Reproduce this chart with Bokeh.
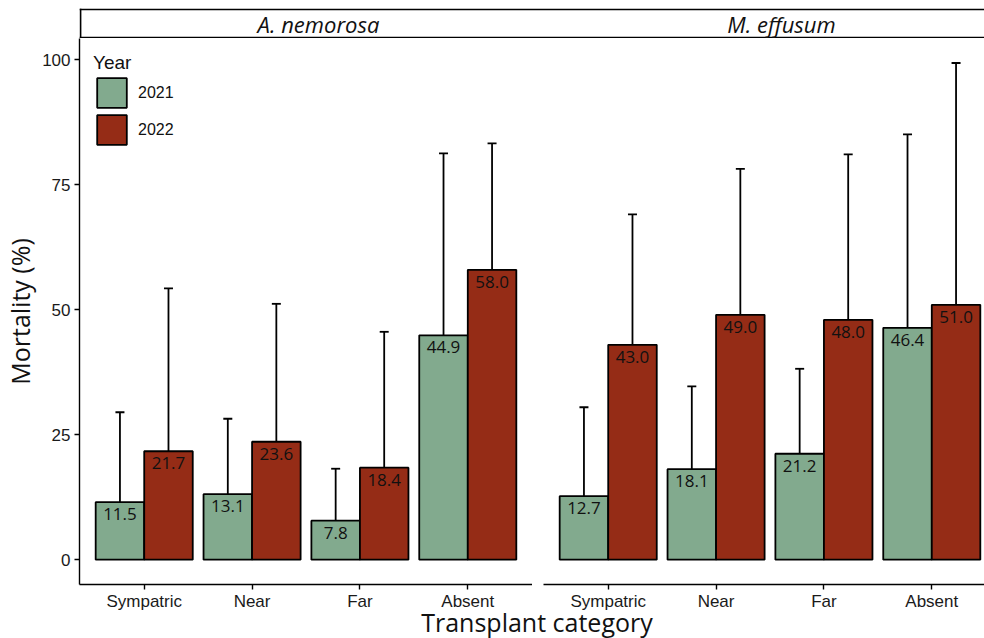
import numpy as np
from bokeh.plotting import figure
from bokeh.models import (ColumnDataSource, Range1d, FixedTicker, Whisker, TeeHead,
                          Legend, LegendItem, Span, Label, Div)
from bokeh.layouts import column, row
from bokeh.core.properties import value
from bokeh.embed import file_html
from bokeh.resources import INLINE

# ---------------- data ----------------
categories = ["Sympatric", "Near", "Far", "Absent"]
years = ["2021", "2022"]
species = ["A. nemorosa", "M. effusum"]

nem_2021_mean = [11.5, 13.1, 7.8, 44.9]
nem_2021_upper = [29.5, 28.2, 18.2, 81.3]
nem_2022_mean = [21.7, 23.6, 18.4, 58.0]
nem_2022_upper = [54.3, 51.2, 45.6, 83.3]

eff_2021_mean = [12.7, 18.1, 21.2, 46.4]
eff_2021_upper = [30.5, 34.7, 38.2, 85.1]
eff_2022_mean = [43.0, 49.0, 48.0, 51.0]
eff_2022_upper = [69.1, 78.2, 81.1, 99.4]

y_ticks = [0, 25, 50, 75, 100]

# ---------------- style ----------------
COL = {"2021": "#82AA8E", "2022": "#952C16"}
TICK_FONT = "Liberation Sans"
TEXT_FONT = "Open Sans"
BAR_W = 0.45
LW = 1.8

pos = np.arange(1, len(categories) + 1)
overrides = {int(p): c for p, c in zip(pos, categories)}
PX_PER_UNIT = 453 / 4.2


def make_panel(means, uppers, left_panel):
    if left_panel:
        xr = Range1d(0.4, 4.6)
        p = figure(width=532, height=576, x_range=xr, y_range=Range1d(-4.97, 104.3),
                   output_backend="svg", toolbar_location=None,
                   min_border_left=79, min_border_right=0, min_border_top=0,
                   min_border_bottom=30)
    else:
        xr = Range1d(0.4, 0.4 + 441 / PX_PER_UNIT)
        p = figure(width=452, height=576, x_range=xr, y_range=Range1d(-4.97, 104.3),
                   output_backend="svg", toolbar_location=None, y_axis_location=None,
                   min_border_left=11, min_border_right=0, min_border_top=0,
                   min_border_bottom=30)
    p.outline_line_color = None
    p.xgrid.visible = False
    p.ygrid.visible = False
    p.background_fill_color = "white"

    renderers = {}
    for k, yr in enumerate(years):
        off = -BAR_W / 2 if k == 0 else BAR_W / 2
        src = ColumnDataSource(dict(
            x=pos + off, top=means[k], upper=uppers[k],
            lab=[f"{v:.1f}" for v in means[k]]))
        r = p.vbar(x="x", top="top", bottom=0, width=BAR_W, source=src,
                   fill_color=COL[yr], line_color="black", line_width=LW)
        renderers[yr] = r
        w = Whisker(base="x", lower="top", upper="upper", source=src,
                    line_color="black", line_width=LW, lower_head=None,
                    upper_head=TeeHead(size=9, line_color="black", line_width=LW))
        p.add_layout(w)
        p.text(x="x", y="top", text="lab", source=src, text_align="center",
               text_baseline="top", y_offset=6, text_font=value(TEXT_FONT),
               text_font_size="17px", text_color="#111111")

    p.xaxis.ticker = FixedTicker(ticks=list(pos))
    p.xaxis.major_label_overrides = overrides
    p.xaxis.major_label_text_font = TICK_FONT
    p.xaxis.major_label_text_font_size = "17px"
    p.xaxis.major_label_text_color = "#1a1a1a"
    p.xaxis.major_tick_out = 5
    p.xaxis.major_tick_in = 0
    p.xaxis.minor_tick_line_color = None
    p.xaxis.major_label_standoff = 2
    p.xaxis.axis_line_width = 1.4
    p.xaxis.major_tick_line_width = 1.4

    if left_panel:
        p.yaxis.ticker = FixedTicker(ticks=y_ticks)
        p.yaxis.major_label_text_font = TICK_FONT
        p.yaxis.major_label_text_font_size = "17px"
        p.yaxis.major_label_text_color = "#1a1a1a"
        p.yaxis.major_tick_out = 5
        p.yaxis.major_tick_in = 0
        p.yaxis.minor_tick_line_color = None
        p.yaxis.major_label_standoff = 4
        p.yaxis.axis_line_width = 1.4
        p.yaxis.major_tick_line_width = 1.4
        p.yaxis.axis_label = "Mortality (%)"
        p.yaxis.axis_label_text_font = TEXT_FONT
        p.yaxis.axis_label_text_font_size = "25px"
        p.yaxis.axis_label_text_font_style = "normal"
        p.yaxis.axis_label_text_color = "#111111"
        p.yaxis.axis_label_standoff = 2

        legend = Legend(items=[LegendItem(label=yr, renderers=[renderers[yr]]) for yr in years],
                        location="top_left", title="Year")
        legend.title_text_font = TICK_FONT
        legend.title_text_font_size = "19px"
        legend.title_text_font_style = "normal"
        legend.title_text_color = "#111111"
        legend.title_standoff = 0
        legend.label_text_font = TICK_FONT
        legend.label_text_font_size = "16px"
        legend.label_text_color = "#111111"
        legend.glyph_width = 37
        legend.glyph_height = 37
        legend.label_standoff = 8
        legend.spacing = 0
        legend.padding = 4
        legend.margin = 14
        legend.border_line_color = None
        legend.background_fill_alpha = 0
        p.add_layout(legend)
    return p


left = make_panel([nem_2021_mean, nem_2022_mean], [nem_2021_upper, nem_2022_upper], True)
right = make_panel([eff_2021_mean, eff_2022_mean], [eff_2021_upper, eff_2022_upper], False)

# strip with facet labels
strip = figure(width=984, height=38, x_range=Range1d(-1, 904), y_range=Range1d(-0.03, 1.03),
               output_backend="svg", toolbar_location=None, x_axis_location=None,
               y_axis_location=None, min_border_left=79, min_border_right=0,
               min_border_top=8, min_border_bottom=0)
strip.outline_line_color = None
strip.xgrid.visible = False
strip.ygrid.visible = False
for loc in (0, 1):
    strip.add_layout(Span(location=loc, dimension="width", line_color="black", line_width=LW))
strip.add_layout(Span(location=0, dimension="height", line_color="black", line_width=LW))
for name, cx in zip(species, (238, 701)):
    strip.add_layout(Label(x=cx, y=0.5, text=name, text_align="center", text_baseline="middle",
                           text_font=TEXT_FONT, text_font_size="22px",
                           text_font_style="italic", text_color="#111111"))

xtitle = Div(text='<div style="position:absolute; left:537px; top:-5px; transform:translateX(-50%); '
                  'font-family:\'Open Sans\'; font-size:25px; line-height:26px; color:#111; '
                  'white-space:nowrap;">Transplant category</div>',
             width=984, height=24, margin=(0, 0, 0, 0))

layout = column(strip, row(left, right, spacing=0), xtitle, spacing=0)

open("out.html", "w").write(file_html(layout, INLINE))
